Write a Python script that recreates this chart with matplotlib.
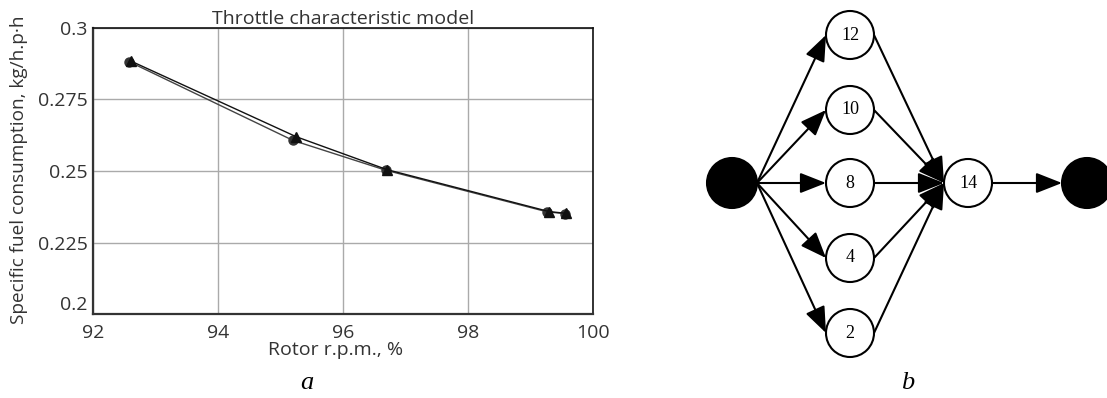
import numpy as np
import matplotlib.pyplot as plt
from matplotlib.patches import Circle, FancyArrowPatch

# throttle characteristic: model vs experiment
rpm_model = [92.58, 95.20, 96.68, 99.27, 99.55]
sfc_model = [0.2882, 0.2607, 0.2503, 0.2357, 0.2351]
rpm_exp = [92.60, 95.25, 96.70, 99.30, 99.57]
sfc_exp = [0.2885, 0.2620, 0.2505, 0.2358, 0.2352]

x_ticks = [92, 94, 96, 98, 100]
y_ticks = [0.2, 0.225, 0.25, 0.275, 0.3]
y_tick_labels = ['0.2', '0.225', '0.25', '0.275', '0.3']

# graph b: node labels, layout (pixel grid of the panel) and edges
node_names = ['s', '12', '10', '8', '4', '2', '14', 't']
node_x = [732, 850, 850, 850, 850, 850, 968, 1087]
node_y = [183, 35, 110, 183, 258, 333, 183, 183]
node_r = [25, 24, 24, 24, 24, 24, 24, 25]
node_filled = [True, False, False, False, False, False, False, True]
edges = [('s', '12'), ('s', '10'), ('s', '8'), ('s', '4'), ('s', '2'),
         ('12', '14'), ('10', '14'), ('8', '14'), ('4', '14'), ('2', '14'),
         ('14', 't')]

fig = plt.figure(figsize=(11.07, 3.98), dpi=100)
W, H = 1107, 398

# ---- panel a ----
ax = fig.add_axes([93 / W, 1 - 314 / H, 500 / W, 286 / H])
sans = 'Open Sans'
txt = '#333333'
ax.plot(rpm_model, sfc_model, color='#444444', lw=1.0, marker='o', ms=6.5,
        mfc='#333333', mec='#333333', zorder=3)
ax.plot(rpm_exp, sfc_exp, color='#111111', lw=1.0, marker='^', ms=7.5,
        mfc='#111111', mec='#111111', zorder=4)
ax.set_xlim(92, 100)
ax.set_ylim(0.2, 0.3)
ax.set_xticks(x_ticks)
ax.set_yticks(y_ticks)
ax.set_yticklabels(y_tick_labels)
ax.grid(True, color='#aaaaaa', lw=1.0)
ax.tick_params(axis='y', length=0, pad=4, labelsize=14, colors=txt)
ax.tick_params(axis='x', length=0, pad=7, labelsize=14, colors=txt)
for lab in ax.get_xticklabels() + ax.get_yticklabels():
    lab.set_family(sans)
ax.get_yticklabels()[0].set_va('bottom')
for s in ['left', 'bottom']:
    ax.spines[s].set_linewidth(1.6)
    ax.spines[s].set_color('#333333')
for s in ['top', 'right']:
    ax.spines[s].set_linewidth(1.2)
    ax.spines[s].set_color('#111111')
ax.set_title('Throttle characteristic model', family=sans, fontsize=14,
             color=txt, pad=1)
ax.set_xlabel('Rotor r.p.m., %', family=sans, fontsize=14, color=txt)
ax.xaxis.set_label_coords(0.485, -0.095)
ax.set_ylabel('Specific fuel consumption, kg/h.p\u00b7h', family=sans,
              fontsize=13.7, color=txt)
ax.yaxis.set_label_coords(-0.13, 0.505)
fig.text(307 / W, 1 - 383 / H, 'a', family='Liberation Serif', style='italic',
         fontsize=19, ha='center', va='center')

# ---- panel b ----
ax2 = fig.add_axes([690 / W, 0, 417 / W, 1])
ax2.set_xlim(690, 1107)
ax2.set_ylim(398, 0)
ax2.axis('off')

pos = {n: (x, y, r) for n, x, y, r in zip(node_names, node_x, node_y, node_r)}
for n, x, y, r, f in zip(node_names, node_x, node_y, node_r, node_filled):
    ax2.add_patch(Circle((x, y), r, fc='black' if f else 'white', ec='black',
                         lw=1.5, zorder=3))
    if not f:
        ax2.text(x, y, n, family='Liberation Serif', fontsize=13,
                 ha='center', va='center', zorder=4)

# edges leave from the right side of a node and end at the left side of the next
for a, b in edges:
    xa, ya, ra = pos[a]
    xb, yb, rb = pos[b]
    p0 = (xa + ra, ya)
    p1 = (xb - rb, yb)
    ax2.add_patch(FancyArrowPatch(p0, p1, arrowstyle='-|>,head_length=16,head_width=6.3',
                                  mutation_scale=1, shrinkA=0, shrinkB=0,
                                  color='black', lw=1.5, zorder=2))

fig.text(908 / W, 1 - 383 / H, 'b', family='Liberation Serif', style='italic',
         fontsize=19, ha='center', va='center')

fig.savefig('out.png', dpi=100)
